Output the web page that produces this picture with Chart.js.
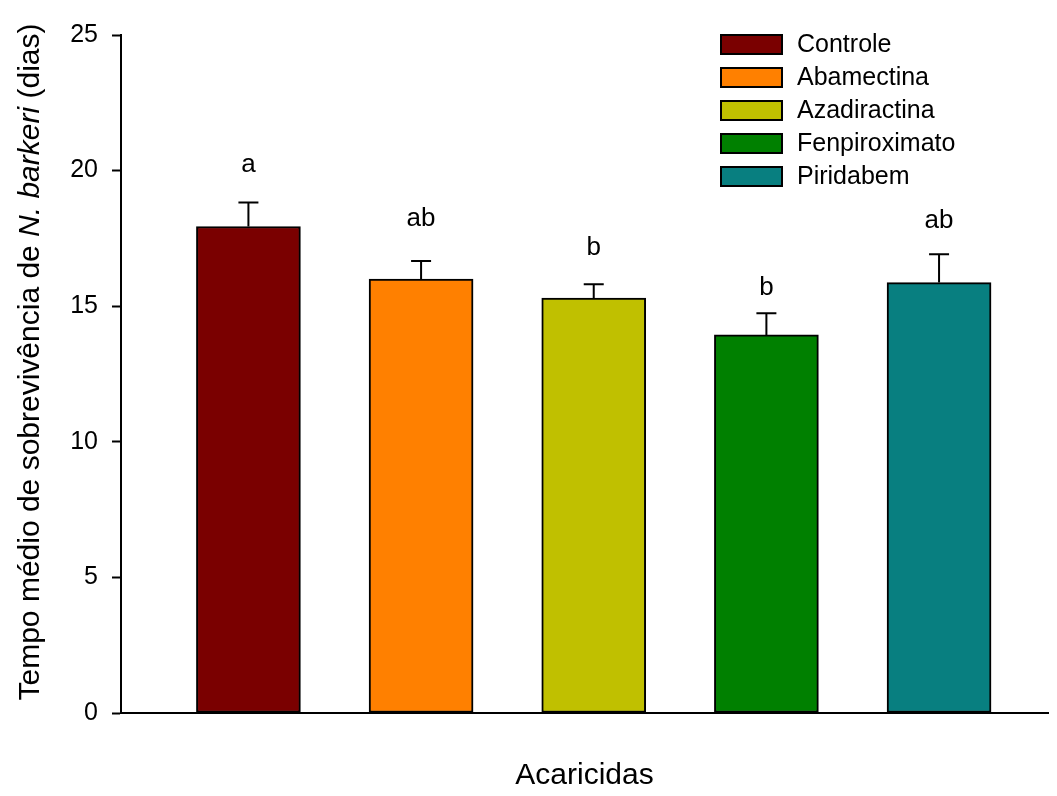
<!DOCTYPE html>
<html>
<head>
<meta charset="utf-8">
<script src="https://cdn.jsdelivr.net/npm/chart.js@4.4.1/dist/chart.umd.min.js"></script>
<style>
  html, body { margin: 0; padding: 0; background: #fff; }
  canvas { display: block; }
</style>
</head>
<body>
<canvas id="chart" width="1057" height="796"></canvas>
<script>
// Mean survival time (days) of N. barkeri per acaricide, with standard error
const categories = ['Controle', 'Abamectina', 'Azadiractina', 'Fenpiroximato', 'Piridabem'];
const means = [17.94, 16.00, 15.30, 13.94, 15.87];
const errors = [0.88, 0.67, 0.51, 0.80, 1.05];
// Significance letters and the height (in days) of their baseline
const letters = ['a', 'ab', 'b', 'b', 'ab'];
const letterY = [19.94, 17.96, 16.87, 15.42, 17.88];
const colors = ['#7a0000', '#ff8000', '#c0c000', '#008000', '#087f80'];
const yTicks = [0, 5, 10, 15, 20, 25];
// Y axis title, with the species name in italics
const yTitleParts = [
  { text: 'Tempo médio de sobrevivência de ', italic: false },
  { text: 'N. barkeri', italic: true },
  { text: ' (dias)', italic: false }
];

const FONT = "'Liberation Sans', Arial, Helvetica, sans-serif";

// Upward error bars with a short cap
const errorBarPlugin = {
  id: 'errorBars',
  afterDatasetsDraw(chart) {
    const ctx = chart.ctx;
    const y = chart.scales.y;
    const meta = chart.getDatasetMeta(0);
    ctx.save();
    ctx.strokeStyle = '#000';
    ctx.lineWidth = 2;
    meta.data.forEach((bar, i) => {
      const top = y.getPixelForValue(means[i] + errors[i]);
      ctx.beginPath();
      ctx.moveTo(bar.x, bar.y);
      ctx.lineTo(bar.x, top);
      ctx.moveTo(bar.x - 10, top);
      ctx.lineTo(bar.x + 10, top);
      ctx.stroke();
    });
    ctx.restore();
  }
};

// Letters from the mean comparison test above each bar
const letterPlugin = {
  id: 'letters',
  afterDatasetsDraw(chart) {
    const ctx = chart.ctx;
    const y = chart.scales.y;
    const meta = chart.getDatasetMeta(0);
    ctx.save();
    ctx.fillStyle = '#000';
    ctx.font = '26px ' + FONT;
    ctx.textAlign = 'center';
    ctx.textBaseline = 'alphabetic';
    meta.data.forEach((bar, i) => {
      ctx.fillText(letters[i], bar.x, y.getPixelForValue(letterY[i]));
    });
    ctx.restore();
  }
};

// Rotated y axis title with mixed upright / italic runs
const yTitlePlugin = {
  id: 'yTitle',
  afterDraw(chart) {
    const ctx = chart.ctx;
    const size = 30;
    const fontOf = p => (p.italic ? 'italic ' : '') + size + 'px ' + FONT;
    ctx.save();
    let total = 0;
    yTitleParts.forEach(p => { ctx.font = fontOf(p); total += ctx.measureText(p.text).width; });
    ctx.translate(31, 362);
    ctx.rotate(-Math.PI / 2);
    ctx.fillStyle = '#000';
    ctx.textBaseline = 'middle';
    ctx.textAlign = 'left';
    let x = -total / 2;
    yTitleParts.forEach(p => {
      ctx.font = fontOf(p);
      ctx.fillText(p.text, x, 0);
      x += ctx.measureText(p.text).width;
    });
    ctx.restore();
  }
};

// Legend box in the upper right of the plot
const legendPlugin = {
  id: 'boxLegend',
  afterDraw(chart) {
    const ctx = chart.ctx;
    const boxX = 721, boxW = 61, boxH = 19, textX = 797, firstRow = 44.5, rowStep = 33;
    ctx.save();
    ctx.font = '25px ' + FONT;
    ctx.textAlign = 'left';
    ctx.textBaseline = 'middle';
    categories.forEach((name, i) => {
      const cy = firstRow + i * rowStep;
      ctx.fillStyle = colors[i];
      ctx.fillRect(boxX, cy - boxH / 2, boxW, boxH);
      ctx.strokeStyle = '#000';
      ctx.lineWidth = 2;
      ctx.strokeRect(boxX, cy - boxH / 2, boxW, boxH);
      ctx.fillStyle = '#000';
      ctx.fillText(name, textX, cy + 1);
    });
    ctx.restore();
  }
};

new Chart(document.getElementById('chart'), {
  type: 'bar',
  data: {
    datasets: [{
      label: 'Tempo médio',
      data: means.map((v, i) => ({ x: i + 1, y: v })),
      backgroundColor: colors,
      borderColor: '#000',
      borderWidth: 2,
      borderSkipped: false,
      barThickness: 104
    }]
  },
  options: {
    responsive: false,
    animation: false,
    devicePixelRatio: 1,
    layout: { padding: { top: 35, right: 9, bottom: 0, left: 0 } },
    plugins: {
      legend: { display: false },
      tooltip: { enabled: false }
    },
    scales: {
      x: {
        type: 'linear',
        offset: false,
        min: 0.262,
        max: 5.631,
        ticks: { display: false },
        grid: { display: false, offset: false },
        border: { display: true, color: '#000', width: 2 },
        title: {
          display: true,
          text: 'Acaricidas',
          color: '#000',
          font: { family: FONT, size: 30 },
          padding: { top: 0, bottom: 2 }
        },
        afterFit(scale) { scale.height = 83; }
      },
      y: {
        min: 0,
        max: 25,
        afterBuildTicks(scale) { scale.ticks = yTicks.map(v => ({ value: v })); },
        ticks: {
          color: '#000',
          font: { family: FONT, size: 25 },
          padding: 14
        },
        grid: {
          display: true,
          drawOnChartArea: false,
          drawTicks: true,
          tickLength: 9,
          tickColor: '#000',
          tickWidth: 2
        },
        border: { display: true, color: '#000', width: 2 },
        title: { display: false },
        afterFit(scale) { scale.width = 121; }
      }
    }
  },
  plugins: [errorBarPlugin, letterPlugin, yTitlePlugin, legendPlugin]
});
</script>
</body>
</html>
